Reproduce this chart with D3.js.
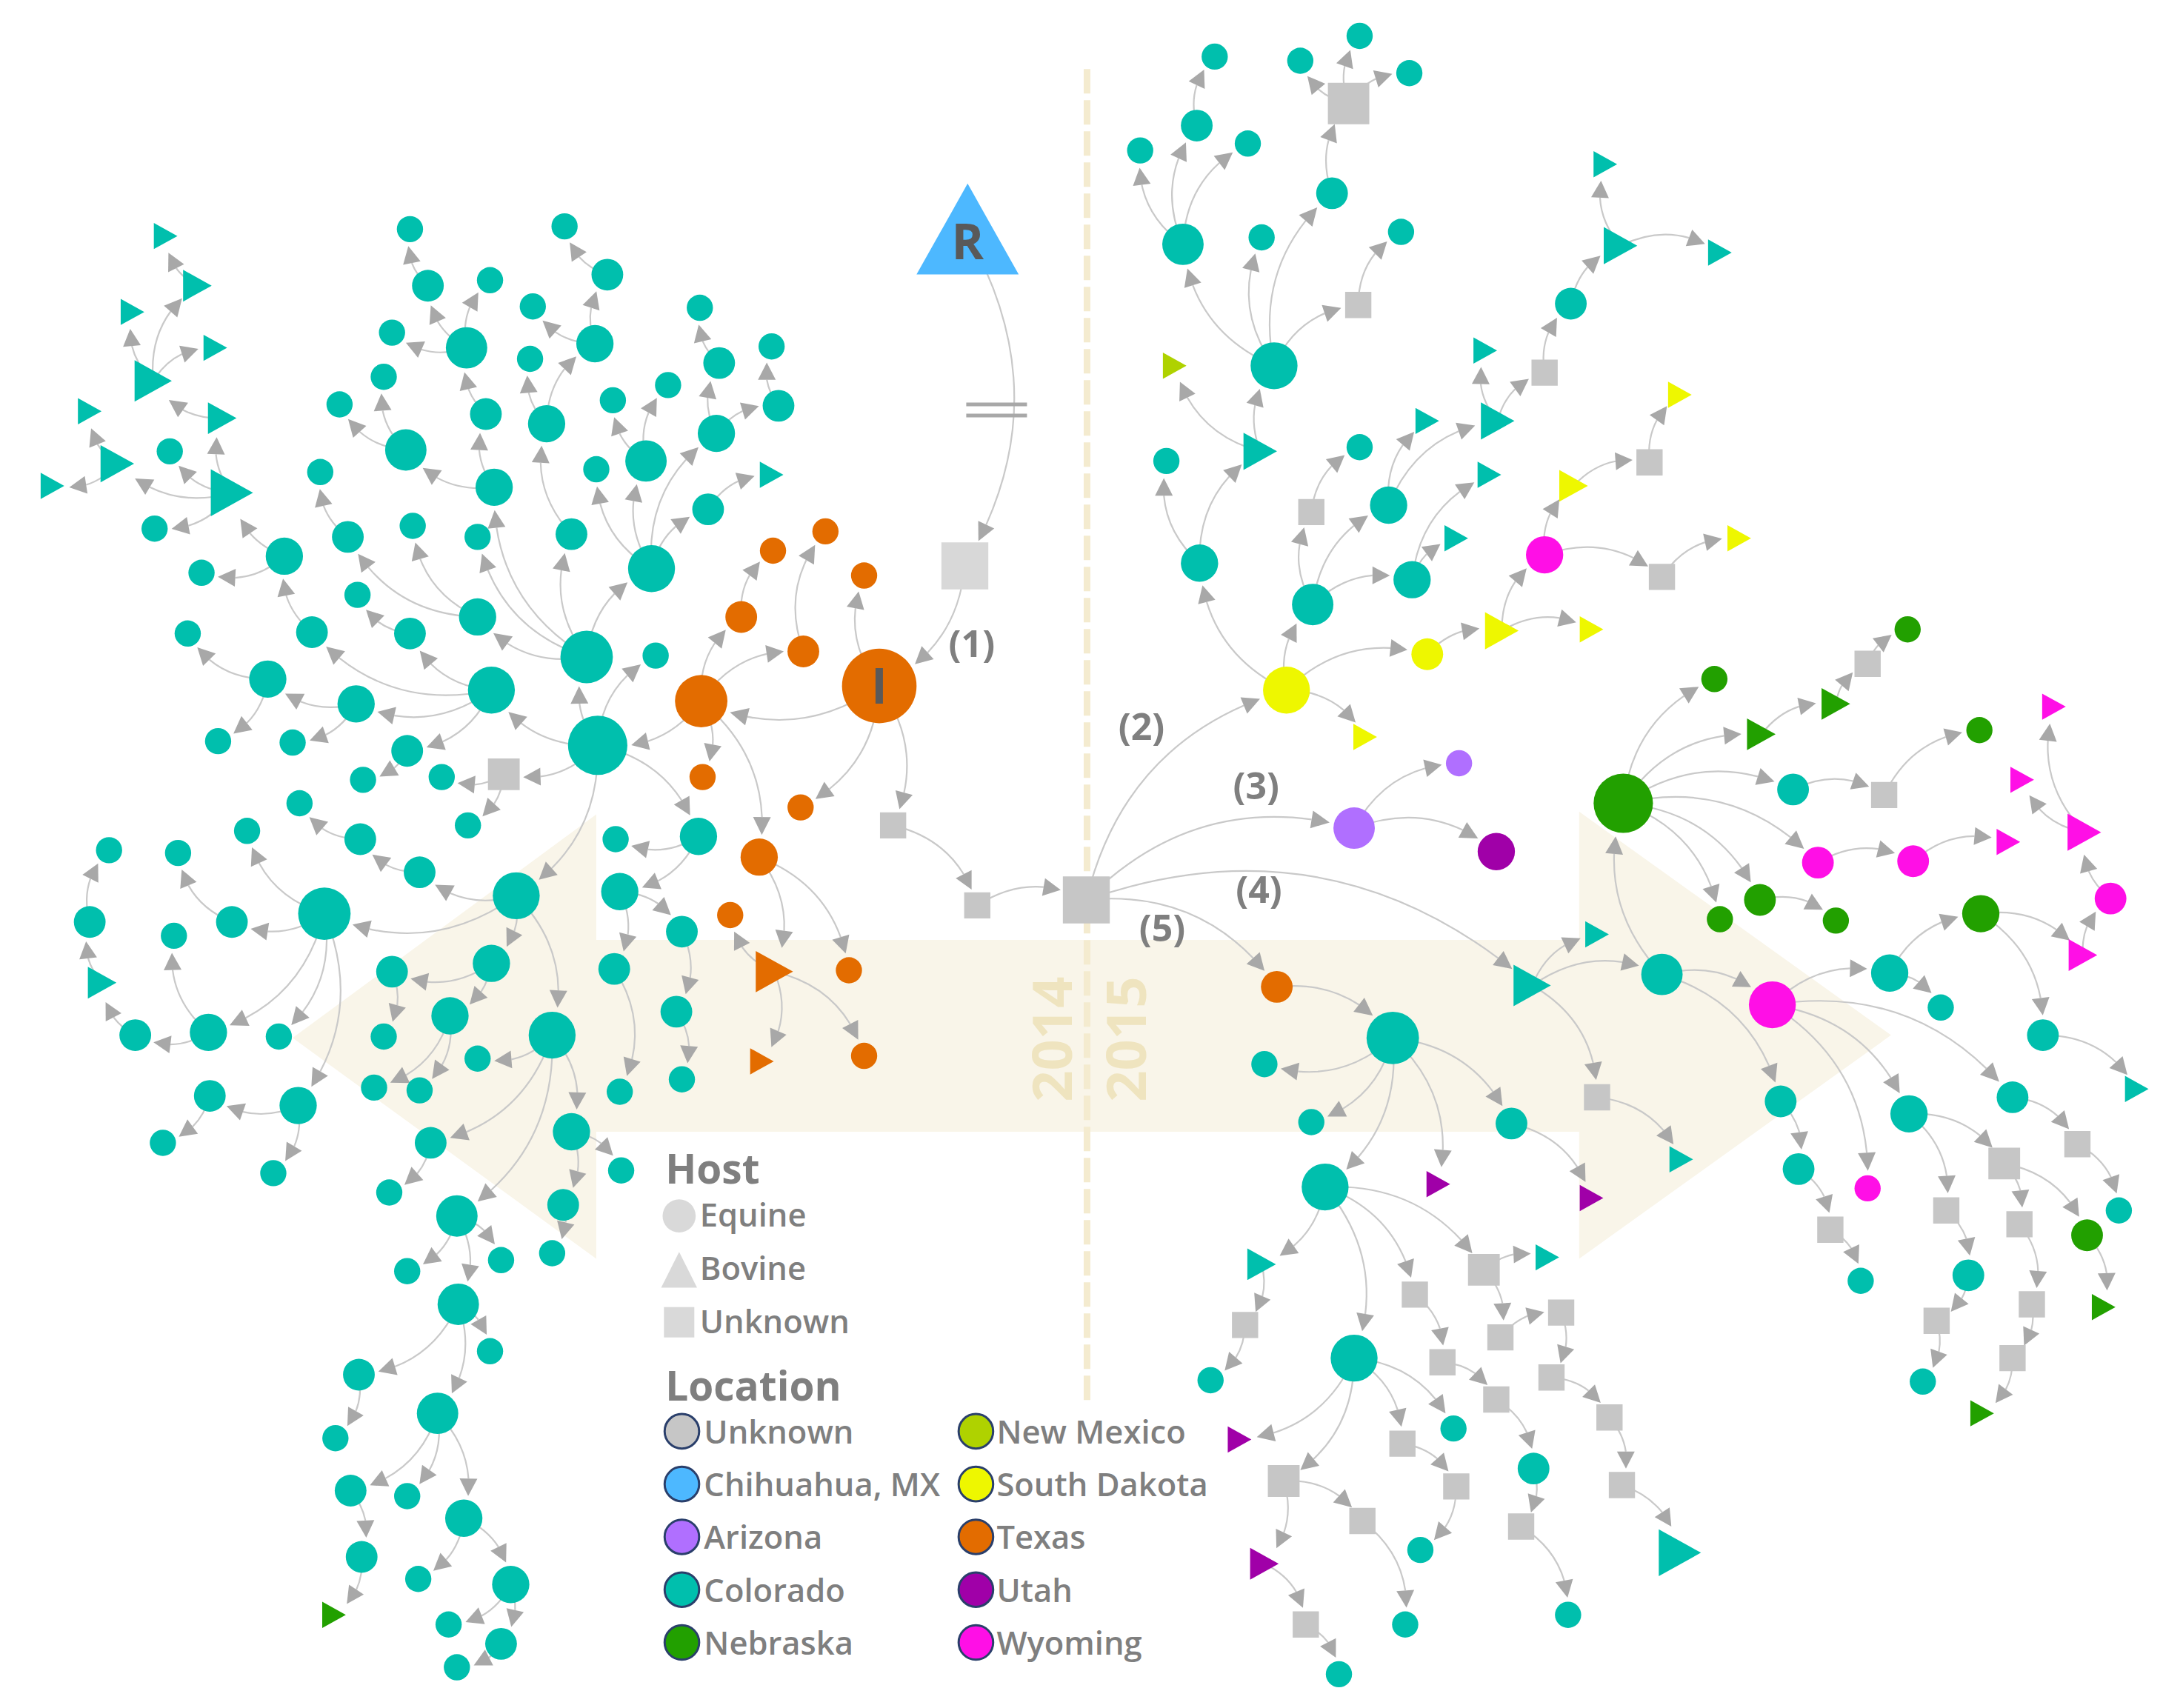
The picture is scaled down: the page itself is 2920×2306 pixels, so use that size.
<!DOCTYPE html>
<html>
<head>
<meta charset="utf-8">
<script src="https://unpkg.com/d3@7/dist/d3.min.js"></script>
<style>
  body { margin: 0; background: #fff; }
  text { font-family: "Open Sans", sans-serif; }
</style>
</head>
<body>
<svg id="chart"></svg>
<script>
// every node: x, y, host, location, weight, parent x, parent y (picture units)
const rootNodes = [
  [701,170,'B','CH',9],
  [699,410,'U','UL',5,701,170],
  [637,497,'E','TX',8,699,410],
];
const texasNodes = [
  [508,508,'E','TX',6,637,497],[626,417,'E','TX',1,637,497],[580,585,'E','TX',1,637,497],
  [647,598,'U','UN',1,637,497],[708,656,'U','UN',1,647,598],[787,652,'U','UN',5,708,656],
  [537,447,'E','TX',2,508,508],[560,399,'E','TX',1,537,447],[582,472,'E','TX',2,508,508],
  [598,385,'E','TX',1,582,472],[509,563,'E','TX',1,508,508],[550,621,'E','TX',3,508,508],
  [561,704,'B','TX',4,550,621],[615,703,'E','TX',1,550,621],[529,663,'E','TX',1,561,704],
  [552,769,'B','TX',1,561,704],[626,765,'E','TX',1,561,704],
];
const upperLeftNodes = [
  [433,540,'E','CO',7,508,508],[425,476,'E','CO',6,433,540],[475,475,'E','CO',1,433,540],
  [365,561,'U','UN',2,433,540],[320,563,'E','CO',1,365,561],[339,598,'E','CO',1,365,561],
  [356,500,'E','CO',5,433,540],[226,458,'E','CO',2,356,500],[206,403,'E','CO',3,226,458],
  [146,415,'E','CO',1,206,403],[168,357,'B','CO',5,206,403],[161,303,'B','CO',2,168,357],
  [123,327,'E','CO',1,168,357],[85,336,'B','CO',3,168,357],[112,383,'E','CO',1,168,357],
  [111,276,'B','CO',4,161,303],[96,226,'B','CO',1,111,276],[143,207,'B','CO',2,111,276],
  [156,252,'B','CO',1,111,276],[120,171,'B','CO',1,143,207],[65,298,'B','CO',1,85,336],
  [38,352,'B','CO',1,85,336],[258,510,'E','CO',3,356,500],[297,459,'E','CO',2,356,500],
  [295,544,'E','CO',2,356,500],[259,431,'E','CO',1,297,459],[194,492,'E','CO',3,258,510],
  [212,538,'E','CO',1,258,510],[136,459,'E','CO',1,194,492],[158,537,'E','CO',1,194,492],
  [263,565,'E','CO',1,295,544],[346,447,'E','CO',3,425,476],[346,389,'E','CO',1,425,476],
  [358,353,'E','CO',3,425,476],[414,387,'E','CO',2,425,476],[472,412,'E','CO',5,425,476],
  [252,389,'E','CO',2,346,447],[299,381,'E','CO',1,346,447],[232,342,'E','CO',1,252,389],
  [294,326,'E','CO',4,358,353],[352,300,'E','CO',2,358,353],[246,293,'E','CO',1,294,326],
  [278,273,'E','CO',1,294,326],[338,252,'E','CO',4,352,300],[284,241,'E','CO',1,338,252],
  [310,207,'E','CO',2,338,252],[355,203,'E','CO',1,338,252],[297,166,'E','CO',1,310,207],
  [396,307,'E','CO',3,414,387],[384,260,'E','CO',1,396,307],[431,249,'E','CO',3,396,307],
  [386,222,'E','CO',1,431,249],[440,199,'E','CO',2,431,249],[409,164,'E','CO',1,440,199],
  [432,340,'E','CO',1,472,412],[468,334,'E','CO',4,472,412],[519,314,'E','CO',3,472,412],
  [513,369,'E','CO',2,472,412],[444,290,'E','CO',1,468,334],[484,279,'E','CO',1,468,334],
  [521,263,'E','CO',2,519,314],[564,294,'E','CO',2,519,314],[507,223,'E','CO',1,521,263],
  [559,251,'E','CO',1,564,294],[559,344,'B','CO',1,513,369],
];
const lowerLeftNodes = [
  [374,649,'E','CO',5,433,540],[304,632,'E','CO',2,374,649],[261,608,'E','CO',2,304,632],
  [217,582,'E','CO',1,261,608],[235,662,'E','CO',6,374,649],[179,602,'E','CO',1,235,662],
  [168,668,'E','CO',2,235,662],[129,618,'E','CO',1,168,668],[151,748,'E','CO',3,235,662],
  [202,751,'E','CO',1,235,662],[216,801,'E','CO',3,235,662],[126,678,'E','CO',1,151,748],
  [98,750,'E','CO',2,151,748],[74,712,'B','CO',2,98,750],[65,668,'E','CO',2,74,712],
  [79,616,'E','CO',1,65,668],[152,794,'E','CO',2,216,801],[198,850,'E','CO',1,216,801],
  [118,828,'E','CO',1,152,794],[356,698,'E','CO',3,374,649],[400,750,'E','CO',5,374,649],
  [284,704,'E','CO',2,356,698],[326,736,'E','CO',3,356,698],[278,751,'E','CO',1,284,704],
  [271,788,'E','CO',1,326,736],[304,790,'E','CO',1,326,736],[346,767,'E','CO',1,400,750],
  [312,828,'E','CO',2,400,750],[331,881,'E','CO',4,400,750],[414,820,'E','CO',3,400,750],
  [282,864,'E','CO',1,312,828],[450,848,'E','CO',1,414,820],[408,873,'E','CO',2,414,820],
  [400,908,'E','CO',1,408,873],[295,921,'E','CO',1,331,881],[363,913,'E','CO',1,331,881],
  [332,945,'E','CO',4,331,881],[260,996,'E','CO',2,332,945],[355,979,'E','CO',1,332,945],
  [317,1024,'E','CO',4,332,945],[243,1042,'E','CO',1,260,996],[254,1080,'E','CO',2,317,1024],
  [295,1084,'E','CO',1,317,1024],[336,1100,'E','CO',3,317,1024],[262,1128,'E','CO',2,254,1080],
  [242,1170,'B','NE',1,262,1128],[303,1144,'E','CO',1,336,1100],[370,1148,'E','CO',3,336,1100],
  [325,1177,'E','CO',1,370,1148],[363,1191,'E','CO',2,370,1148],[331,1208,'E','CO',1,363,1191],
  [506,606,'E','CO',3,433,540],[446,608,'E','CO',1,506,606],[449,646,'E','CO',3,506,606],
  [494,675,'E','CO',2,449,646],[445,702,'E','CO',2,449,646],[490,733,'E','CO',2,494,675],
  [494,782,'E','CO',1,490,733],[449,791,'E','CO',1,445,702],
];
const southDakotaNodes = [
  [932,500,'E','SD',5,787,652],[869,408,'E','CO',3,932,500],[951,438,'E','CO',4,932,500],
  [1034,474,'E','SD',2,932,500],[989,534,'B','SD',1,932,500],[845,334,'E','CO',1,869,408],
  [913,327,'B','CO',3,869,408],[851,265,'B','NM',1,913,327],[923,265,'E','CO',5,913,327],
  [857,177,'E','CO',4,923,265],[914,172,'E','CO',1,923,265],[965,140,'E','CO',2,923,265],
  [984,221,'U','UN',1,923,265],[826,109,'E','CO',1,857,177],[867,91,'E','CO',2,857,177],
  [904,104,'E','CO',1,857,177],[880,41,'E','CO',1,867,91],[977,75,'U','UN',4,965,140],
  [942,44,'E','CO',1,977,75],[985,26,'E','CO',1,977,75],[1021,53,'E','CO',1,977,75],
  [1015,168,'E','CO',1,984,221],[950,371,'U','UN',1,951,438],[1006,366,'E','CO',3,951,438],
  [1023,420,'E','CO',3,951,438],[985,324,'E','CO',1,950,371],[1034,305,'B','CO',1,1006,366],
  [1085,305,'B','CO',3,1006,366],[1076,254,'B','CO',1,1085,305],[1119,270,'U','UN',1,1085,305],
  [1138,220,'E','CO',2,1119,270],[1174,178,'B','CO',3,1138,220],[1163,119,'B','CO',1,1174,178],
  [1246,183,'B','CO',1,1174,178],[1079,344,'B','CO',1,1023,420],[1055,390,'B','CO',1,1023,420],
  [1088,457,'B','SD',3,1034,474],[1119,402,'E','WY',3,1088,457],[1153,456,'B','SD',1,1088,457],
  [1140,352,'B','SD',2,1119,402],[1204,418,'U','UN',1,1119,402],[1195,335,'U','UN',1,1140,352],
  [1217,286,'B','SD',1,1195,335],[1260,390,'B','SD',1,1204,418],
];
const arizonaNodes = [
  [981,600,'E','AZ',4,787,652],[1057,553,'E','AZ',1,981,600],[1084,617,'E','UT',3,981,600],
];
const lowerRightNodes = [
  [925,715,'E','TX',2,787,652],[1009,752,'E','CO',6,925,715],[916,771,'E','CO',1,1009,752],
  [950,813,'E','CO',1,1009,752],[960,860,'E','CO',5,1009,752],[1042,858,'B','UT',1,1009,752],
  [1095,814,'E','CO',2,1009,752],[1153,868,'B','UT',1,1095,814],[914,916,'B','CO',2,960,860],
  [981,984,'E','CO',5,960,860],[1025,938,'U','UN',1,960,860],[1075,920,'U','UN',2,960,860],
  [902,960,'U','UN',1,914,916],[877,1000,'E','CO',1,902,960],[1121,911,'B','CO',1,1075,920],
  [1087,969,'U','UN',1,1075,920],[1131,951,'U','UN',1,1087,969],[1124,998,'U','UN',1,1131,951],
  [1166,1027,'U','UN',1,1124,998],[1175,1076,'U','UN',1,1166,1027],[1217,1125,'B','CO',5,1175,1076],
  [1045,987,'U','UN',1,1025,938],[1084,1014,'U','UN',1,1045,987],[1111,1064,'E','CO',2,1084,1014],
  [1102,1106,'U','UN',1,1111,1064],[1136,1170,'E','CO',1,1102,1106],[898,1043,'B','UT',1,981,984],
  [930,1073,'U','UN',2,981,984],[1016,1046,'U','UN',1,981,984],[1053,1035,'E','CO',1,981,984],
  [1055,1077,'U','UN',1,1016,1046],[1029,1123,'E','CO',1,1055,1077],[916,1133,'B','UT',2,930,1073],
  [987,1102,'U','UN',1,930,1073],[1018,1177,'E','CO',1,987,1102],[946,1177,'U','UN',1,916,1133],
  [970,1213,'E','CO',1,946,1177],
];
const farRightNodes = [
  [1110,714,'B','CO',4,787,652],[1157,677,'B','CO',1,1110,714],[1204,706,'E','CO',4,1110,714],
  [1157,795,'U','UN',1,1110,714],[1218,840,'B','CO',1,1157,795],[1176,582,'E','NE',7,1204,706],
  [1284,728,'E','WY',5,1204,706],[1290,798,'E','CO',2,1204,706],[1303,847,'E','CO',2,1290,798],
  [1326,891,'U','UN',1,1303,847],[1348,928,'E','CO',1,1326,891],[1242,492,'E','NE',1,1176,582],
  [1276,532,'B','NE',2,1176,582],[1299,572,'E','CO',2,1176,582],[1317,625,'E','WY',2,1176,582],
  [1275,652,'E','NE',2,1176,582],[1246,666,'E','NE',1,1176,582],[1330,510,'B','NE',2,1276,532],
  [1353,481,'U','UN',1,1330,510],[1382,456,'E','NE',1,1353,481],[1365,576,'U','UN',1,1299,572],
  [1434,529,'E','NE',1,1365,576],[1386,624,'E','WY',2,1317,625],[1455,610,'B','WY',1,1386,624],
  [1330,667,'E','NE',1,1275,652],[1369,705,'E','CO',3,1284,728],[1353,861,'E','WY',1,1284,728],
  [1383,807,'E','CO',3,1284,728],[1458,795,'E','CO',2,1284,728],[1406,730,'E','CO',1,1369,705],
  [1435,662,'E','NE',3,1369,705],[1509,692,'B','WY',2,1435,662],[1480,750,'E','CO',2,1435,662],
  [1548,789,'B','CO',1,1480,750],[1529,651,'E','WY',2,1509,692],[1510,603,'B','WY',3,1529,651],
  [1488,512,'B','WY',1,1510,603],[1465,565,'B','WY',1,1510,603],[1505,829,'U','UN',1,1458,795],
  [1535,877,'E','CO',1,1505,829],[1410,877,'U','UN',1,1383,807],[1452,843,'U','UN',2,1383,807],
  [1426,924,'E','CO',2,1410,877],[1403,957,'U','UN',1,1426,924],[1393,1001,'E','CO',1,1403,957],
  [1463,887,'U','UN',1,1452,843],[1512,895,'E','NE',2,1452,843],[1524,947,'B','NE',1,1512,895],
  [1472,945,'U','UN',1,1463,887],[1458,984,'U','UN',1,1472,945],[1436,1024,'B','NE',1,1458,984],
];

const weights = [1, 2, 3, 4, 5, 6, 7, 8, 9];
const radii = [9.5, 11.5, 13.5, 15, 17, 19, 21.5, 27, 37];

const locationKeys = ['UN', 'UL', 'CH', 'AZ', 'CO', 'NE', 'NM', 'SD', 'TX', 'UT', 'WY'];
const locationColors = ['#c6c6c6', '#d8d8d8', '#4db8ff', '#b06fff', '#00bfad', '#22a000', '#afd200', '#eef700', '#e36c00', '#a000a8', '#ff0fe6'];

const hostLegend = ['Equine', 'Bovine', 'Unknown'];
const locationLegendA = [['Unknown', 'UN'], ['Chihuahua, MX', 'CH'], ['Arizona', 'AZ'], ['Colorado', 'CO'], ['Nebraska', 'NE']];
const locationLegendB = [['New Mexico', 'NM'], ['South Dakota', 'SD'], ['Texas', 'TX'], ['Utah', 'UT'], ['Wyoming', 'WY']];

const stepLabels = [['(1)', 704, 466], ['(2)', 827, 526], ['(3)', 910, 569], ['(4)', 912, 644], ['(5)', 842, 672]];
const yearLabels = [['2014', 761], ['2015', 815]];

const width = 2920;
const height = 2306;

const x = d3.scaleLinear().domain([0, 1567]).range([0, width]);
const y = d3.scaleLinear().domain([0, 1237.5]).range([0, height]);
const k = width / 1567;
const radius = d3.scaleLinear().domain(weights).range(radii);
const color = d3.scaleOrdinal().domain(locationKeys).range(locationColors);

const svg = d3.select('#chart').attr('width', width).attr('height', height);

const nodes = [].concat(rootNodes, texasNodes, upperLeftNodes, lowerLeftNodes, southDakotaNodes,
  arizonaNodes, lowerRightNodes, farRightNodes)
  .map(r => ({x: x(r[0]), y: y(r[1]), host: r[2], loc: r[3], r: radius(r[4]) * k,
    key: r[0] + ',' + r[1], parent: r[5] + ',' + r[6]}));
const byKey = new Map(nodes.map(d => [d.key, d]));
const links = nodes.filter(d => byKey.has(d.parent)).map(d => ({source: byKey.get(d.parent), target: d}));

// big arrow behind the tree, one head on each end
const band = [[432, 681], [1144, 681], [1144, 588], [1370, 750], [1144, 912], [1144, 820], [432, 820], [432, 912], [212, 752], [432, 590]];
svg.append('path')
  .attr('d', d3.line().x(d => x(d[0])).y(d => y(d[1]))(band) + 'Z')
  .attr('fill', '#f9f5e9');

svg.append('line')
  .attr('x1', x(787.5)).attr('x2', x(787.5)).attr('y1', y(50)).attr('y2', y(1016))
  .attr('stroke', '#f4ebcf').attr('stroke-width', 9).attr('stroke-dasharray', '33 9');

svg.selectAll('text.year')
  .data(yearLabels)
  .join('text')
  .attr('class', 'year')
  .attr('transform', d => `translate(${x(d[1])},${y(753)}) rotate(-90)`)
  .attr('text-anchor', 'middle')
  .attr('dominant-baseline', 'central')
  .attr('font-size', 74)
  .attr('font-weight', 700)
  .attr('fill', '#efe4bf')
  .text(d => d[0]);

// links all bow to the same side, arc from source to target
function arc(l) {
  const s = l.source, t = l.target;
  const dx = t.x - s.x, dy = t.y - s.y;
  const bow = 0.29;
  const cx = (s.x + t.x) / 2 + dy * bow;
  const cy = (s.y + t.y) / 2 - dx * bow;
  const at = u => [
    (1 - u) * (1 - u) * s.x + 2 * u * (1 - u) * cx + u * u * t.x,
    (1 - u) * (1 - u) * s.y + 2 * u * (1 - u) * cy + u * u * t.y,
  ];
  const off = t.r + 5;
  let u = 1;
  while (u > 0 && Math.hypot(at(u)[0] - t.x, at(u)[1] - t.y) < off) u -= 0.005;
  const tip = at(u);
  let v = u;
  while (v > 0 && Math.hypot(at(v)[0] - tip[0], at(v)[1] - tip[1]) < 23) v -= 0.005;
  const base = at(v);
  const p = d3.path();
  p.moveTo(s.x, s.y);
  p.quadraticCurveTo(s.x + (cx - s.x) * v, s.y + (cy - s.y) * v, base[0], base[1]);
  const ang = Math.atan2(tip[1] - base[1], tip[0] - base[0]);
  return {d: p.toString(), tip, base, ang};
}

const drawn = links.map(arc);

svg.append('g').selectAll('path')
  .data(drawn)
  .join('path')
  .attr('d', d => d.d)
  .attr('fill', 'none')
  .attr('stroke', '#c9c9c9')
  .attr('stroke-width', 2.2);

svg.append('g').selectAll('path')
  .data(drawn)
  .join('path')
  .attr('d', d => {
    const nx = -Math.sin(d.ang) * 12, ny = Math.cos(d.ang) * 12;
    return d3.line()([d.tip, [d.base[0] + nx, d.base[1] + ny], [d.base[0] - nx, d.base[1] - ny]]) + 'Z';
  })
  .attr('fill', '#a8a8a8');

// break mark on the first link
svg.append('g').selectAll('line')
  .data([293, 301])
  .join('line')
  .attr('x1', x(700)).attr('x2', x(744))
  .attr('y1', d => y(d)).attr('y2', d => y(d))
  .attr('stroke', '#a8a8a8').attr('stroke-width', 5);

function shape(d) {
  const line = d3.line();
  if (d.host === 'U') {
    return line([[d.x - d.r, d.y - d.r], [d.x + d.r, d.y - d.r], [d.x + d.r, d.y + d.r], [d.x - d.r, d.y + d.r]]) + 'Z';
  }
  if (d.key === '701,170') {
    return line([[d.x, d.y - d.r], [d.x + d.r, d.y + d.r * 0.78], [d.x - d.r, d.y + d.r * 0.78]]) + 'Z';
  }
  const h = d.r * 0.9;
  return line([[d.x - h, d.y - d.r], [d.x + h, d.y], [d.x - h, d.y + d.r]]) + 'Z';
}

svg.append('g').selectAll('path')
  .data(nodes.filter(d => d.host !== 'E'))
  .join('path')
  .attr('d', shape)
  .attr('fill', d => color(d.loc));

svg.append('g').selectAll('circle')
  .data(nodes.filter(d => d.host === 'E'))
  .join('circle')
  .attr('cx', d => d.x)
  .attr('cy', d => d.y)
  .attr('r', d => d.r)
  .attr('fill', d => color(d.loc));

svg.selectAll('text.mark')
  .data([['R', 701, 174], ['I', 637, 496]])
  .join('text')
  .attr('class', 'mark')
  .attr('x', d => x(d[1]))
  .attr('y', d => y(d[2]))
  .attr('text-anchor', 'middle')
  .attr('dominant-baseline', 'central')
  .attr('font-size', 66)
  .attr('font-weight', 700)
  .attr('fill', '#595959')
  .text(d => d[0]);

svg.selectAll('text.step')
  .data(stepLabels)
  .join('text')
  .attr('class', 'step')
  .attr('x', d => x(d[1]))
  .attr('y', d => y(d[2]))
  .attr('text-anchor', 'middle')
  .attr('dominant-baseline', 'central')
  .attr('font-size', 50)
  .attr('font-weight', 700)
  .attr('fill', '#7f7f7f')
  .text(d => d[0]);

// legend
const legend = svg.append('g').attr('fill', '#7f7f7f');

legend.selectAll('text.head')
  .data([['Host', 846], ['Location', 1003]])
  .join('text')
  .attr('class', 'head')
  .attr('x', x(482))
  .attr('y', d => y(d[1]))
  .attr('dominant-baseline', 'central')
  .attr('font-size', 55)
  .attr('font-weight', 700)
  .text(d => d[0]);

const hostY = d3.scalePoint().domain(hostLegend).range([880, 957]);

legend.selectAll('text.host')
  .data(hostLegend)
  .join('text')
  .attr('class', 'host')
  .attr('x', x(507))
  .attr('y', d => y(hostY(d)))
  .attr('dominant-baseline', 'central')
  .attr('font-size', 43.5)
  .attr('font-weight', 600)
  .text(d => d);

legend.append('circle').attr('cx', x(492)).attr('cy', y(881)).attr('r', 12 * k).attr('fill', '#d9d9d9');
legend.append('path').attr('fill', '#d9d9d9')
  .attr('d', d3.line()([[x(492), y(907)], [x(505), y(933)], [x(479), y(933)]]) + 'Z');
legend.append('rect').attr('x', x(481)).attr('y', y(947)).attr('width', 22 * k).attr('height', 22 * k).attr('fill', '#d9d9d9');

const rowY = d3.scalePoint().domain(d3.range(5)).range([1037, 1190]);

[[locationLegendA, 494, 510], [locationLegendB, 707, 722]].forEach(([items, cx, tx]) => {
  const row = legend.append('g').selectAll('g')
    .data(items)
    .join('g')
    .attr('transform', (d, i) => `translate(0,${y(rowY(i))})`);
  row.append('circle')
    .attr('cx', x(cx))
    .attr('r', 12.5 * k)
    .attr('fill', d => color(d[1]))
    .attr('stroke', '#2a3f6b')
    .attr('stroke-width', 3);
  row.append('text')
    .attr('x', x(tx))
    .attr('dominant-baseline', 'central')
    .attr('font-size', 43.5)
    .attr('font-weight', 600)
    .text(d => d[0]);
});
</script>
</body>
</html>
